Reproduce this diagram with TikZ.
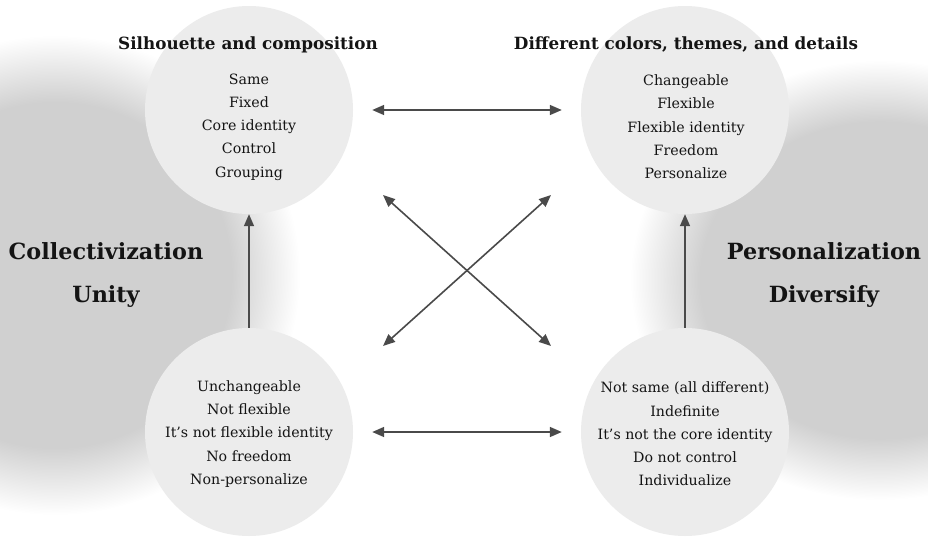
\documentclass[tikz,border=0pt]{standalone}
\usepackage{fontspec}
\setmainfont{DejaVu Serif}
\usetikzlibrary{arrows.meta,calc}

\definecolor{blobgray}{HTML}{D0D0D0}
\definecolor{discfill}{HTML}{ECECEC}
\definecolor{arrowgray}{HTML}{4A4A4A}
\definecolor{inkcol}{HTML}{141414}

% soft grey halo: flat core, fading to white towards the rim
\pgfdeclareradialshading{halo}{\pgfpoint{0bp}{0bp}}{%
  color(0bp)=(blobgray); color(18bp)=(blobgray); color(25bp)=(white); color(50bp)=(white)}

\tikzset{
  disc/.style={circle, fill=discfill, minimum size=208pt, inner sep=0pt},
  listtext/.style={align=center, text=inkcol, font=\fontsize{14.2}{23.3}\selectfont},
  headtext/.style={text=inkcol, font=\bfseries\fontsize{16.8}{20}\selectfont},
  sidetext/.style={text=inkcol, font=\bfseries\fontsize{22.3}{26}\selectfont},
  link/.style={draw=arrowgray, line width=1.6pt,
    -{Triangle[length=12pt,width=10pt]}},
  duallink/.style={draw=arrowgray, line width=1.6pt,
    {Triangle[length=12pt,width=10pt]}-{Triangle[length=12pt,width=10pt]}},
}

\begin{document}
\begin{tikzpicture}[x=1pt,y=-1pt]
  \useasboundingbox (0,0) rectangle (928,538);
  \fill[white] (0,0) rectangle (928,538);

  % background halos on both sides
  \begin{scope}
    \clip (0,0) rectangle (928,538);
    \shade[shading=halo] (55,275) ellipse [x radius=245, y radius=240];
    \shade[shading=halo] (880,280) ellipse [x radius=250, y radius=220];
  \end{scope}

  % the four discs
  \node[disc] (tl) at (249,110) {};
  \node[disc] (tr) at (685,110) {};
  \node[disc] (bl) at (249,432) {};
  \node[disc] (br) at (685,432) {};

  % disc contents
  \node[listtext] (tltext) at (249,127) {Same\\Fixed\\Core identity\\Control\\Grouping};
  \node[listtext] (trtext) at (686,127) {Changeable\\Flexible\\Flexible identity\\Freedom\\Personalize};
  \node[listtext] (bltext) at (249,434) {Unchangeable\\Not flexible\\It’s not flexible identity\\No freedom\\Non-personalize};
  \node[listtext] (brtext) at (685,434) {Not same (all different)\\Indefinite\\It’s not the core identity\\Do not control\\Individualize};

  % headings above the upper discs
  \node[headtext] (tlhead) at (248,45) {Silhouette and composition};
  \node[headtext] (trhead) at (686,45) {Different colors, themes, and details};

  % side labels
  \node[sidetext] (lefta) at (106,251) {Collectivization};
  \node[sidetext] (leftb) at (106,297) {Unity};
  \node[sidetext] (righta) at (824,251) {Personalization};
  \node[sidetext] (rightb) at (824,297) {Diversify};

  % horizontal two-way links
  \draw[duallink, shorten <=19pt, shorten >=19pt] (tl) -- (tr);
  \draw[duallink, shorten <=19pt, shorten >=19pt] (bl) -- (br);

  % upward links
  \draw[link] (bl) -- (tl);
  \draw[link] (br) -- (tr);

  % crossing diagonal links
  \coordinate (xa) at ($(tl.center)+(134,85)$);
  \coordinate (xb) at ($(br.center)+(-134,-86)$);
  \coordinate (xc) at ($(tr.center)+(-134,85)$);
  \coordinate (xd) at ($(bl.center)+(134,-86)$);
  \draw[duallink] (xa) -- (xb);
  \draw[duallink] (xc) -- (xd);
\end{tikzpicture}
\end{document}
